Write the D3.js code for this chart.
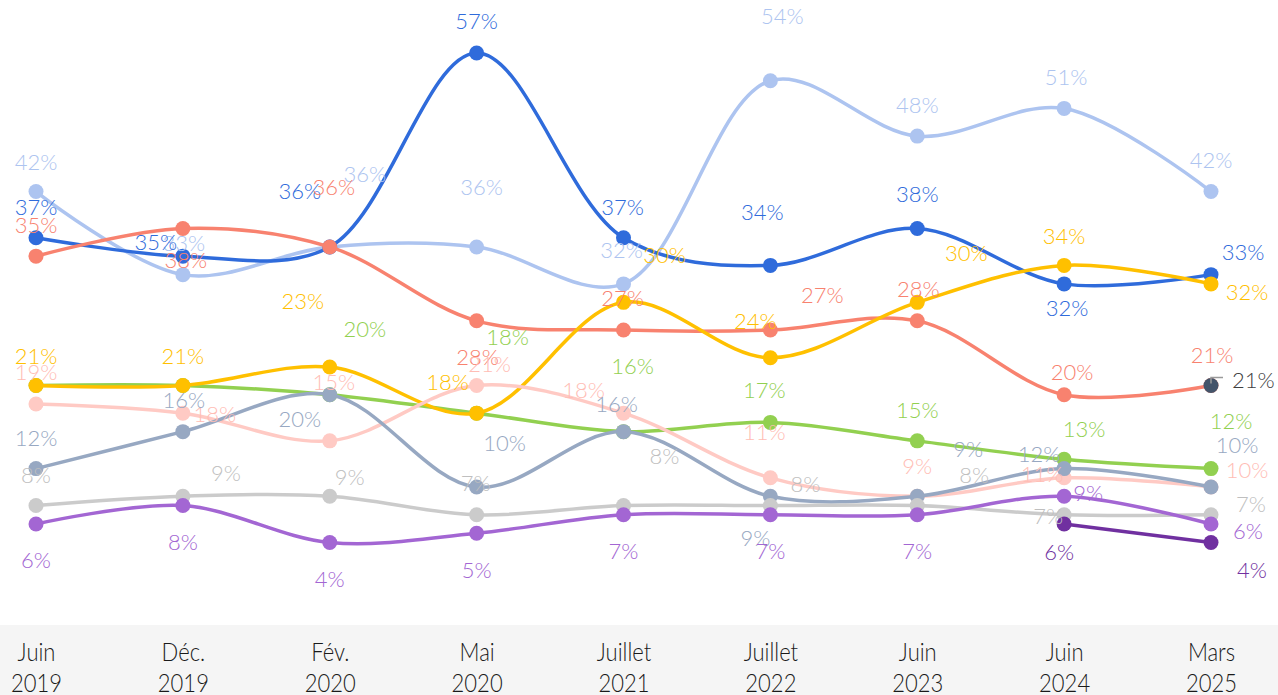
<!DOCTYPE html>
<html>
<head>
<meta charset="utf-8">
<script src="https://cdn.jsdelivr.net/npm/d3@7"></script>
<style>
  html, body { margin: 0; padding: 0; background: #fff; }
  #graph { width: 1278px; height: 695px; overflow: hidden; }
</style>
</head>
<body>
<div id="graph"></div>
<script>
// categories (two-line tick labels)
const months = ["Juin", "Déc.", "Fév.", "Mai", "Juillet", "Juillet", "Juin", "Juin", "Mars"];
const years  = ["2019", "2019", "2020", "2020", "2021", "2022", "2023", "2024", "2025"];

// series values (%), null = no point
const bleuClair  = [42, 33, 36, 36, 32, 54, 48, 51, 42];
const bleu       = [37, 35, 36, 57, 37, 34, 38, 32, 33];
const saumon     = [35, 38, 36, 28, 27, 27, 28, 20, 21];
const vert       = [21, 21, 20, 18, 16, 17, 15, 13, 12];
const jaune      = [21, 21, 23, 18, 30, 24, 30, 34, 32];
const rose       = [19, 18, 15, 21, 18, 11, 9, 11, 10];
const grisBleu   = [12, 16, 20, 10, 16, 9, 9, 12, 10];
const grisClair  = [8, 9, 9, 7, 8, 8, 8, 7, 7];
const violet     = [6, 8, 4, 5, 7, 7, 7, 9, 6];
const violetFonce = [null, null, null, null, null, null, null, 6, 4];
const ardoise    = [null, null, null, null, null, null, null, null, 21];

// label offsets from each point (dx, dy), null = no label
const offBleuClair = [[0,-30],[1,-32],[35,-73],[5,-60],[-2,-34],[12,-65],[0,-32],[2,-32],[0,-32]];
const offBleu      = [[0,-31],[-27,-15],[-30,-56],[0,-33],[-1,-31],[-8,-54],[0,-35],[3,24],[32,-23]];
const offSaumon    = [[0,-32],[3,31],[4,-60],[1,36],[-1,-33],[52,-36],[1,-32],[8,-23],[1,-31]];
const offVert      = [null,null,[35,-66],[31,-77],[9,-66],[-6,-33],[0,-31],[20,-31],[20,-48]];
const offJaune     = [[0,-30],[0,-30],[-27,-66],[-29,-32],[41,-48],[-15,-37],[49,-50],[0,-30],[36,8]];
const offRose      = [[0,-32],[32,0],[4,-59],[13,-22],[-40,-24],[-6,-46],[0,-31],[-22,-4],[36,-18]];
const offGrisBleu  = [[0,-31],[1,-32],[-30,24],[28,-45],[-7,-28],[-15,41],[51,-48],[-25,-15],[26,-43]];
const offGrisClair = [[0,-31],[43,-24],[20,-20],[-1,-32],[41,-50],[35,-22],[57,-31],[-16,1],[40,-11]];
const offViolet    = [[0,36],[0,36],[0,36],[0,36],[0,36],[0,36],[0,36],[24,-4],[37,7]];
const offVioletF   = [null,null,null,null,null,null,null,[-5,28],[41,27]];

const series = [
  {values: bleuClair,  color: "#adc4f0", label: "#adc4f0", off: offBleuClair},
  {values: bleu,       color: "#2f6bdb", label: "#2f6bdb", off: offBleu},
  {values: saumon,     color: "#f8826f", label: "#f8826f", off: offSaumon},
  {values: vert,       color: "#92d050", label: "#92d050", off: offVert},
  {values: jaune,      color: "#ffc000", label: "#ffc000", off: offJaune},
  {values: rose,       color: "#ffcac4", label: "#ffbdb5", off: offRose},
  {values: grisBleu,   color: "#97a8c2", label: "#97a8c2", off: offGrisBleu},
  {values: grisClair,  color: "#cbcbcb", label: "#bfbfbf", off: offGrisClair},
  {values: violet,     color: "#a366d3", label: "#a366d3", off: offViolet},
  {values: violetFonce,color: "#7030a0", label: "#7030a0", off: offVioletF},
  {values: ardoise,    color: "#44546a", label: "#404040", off: [null,null,null,null,null,null,null,null,null]}
];

const width = 1278, height = 695;

const svg = d3.select("#graph")
  .append("svg")
    .attr("width", width)
    .attr("height", height);

const cats = months.map((m, i) => m + " " + years[i]);

const x = d3.scalePoint()
  .domain(cats)
  .range([36, 1211]);

const y = d3.scaleLinear()
  .domain([0, 57])
  .range([579.4, 53]);

// x axis band
svg.append("rect")
  .attr("x", 0).attr("y", 625)
  .attr("width", width).attr("height", 70)
  .attr("fill", "#f5f5f5");

const xAxis = svg.append("g")
  .attr("transform", "translate(0,625)")
  .call(d3.axisBottom(x).tickSize(0).tickPadding(0));
xAxis.select(".domain").remove();
xAxis.selectAll("text").each(function(d, i) {
  const t = d3.select(this).text(null)
    .attr("y", 0)
    .attr("dy", null)
    .attr("transform", "scale(0.88,1)")
    .style("font-family", "Lato, sans-serif")
    .style("font-weight", 300)
    .style("font-size", "25px")
    .attr("fill", "#1a1a1a");
  t.append("tspan").attr("x", 0).attr("y", 36).text(months[i]);
  t.append("tspan").attr("x", 0).attr("y", 67).text(years[i]);
});

const line = d3.line()
  .defined(d => d[1] != null)
  .x(d => x(d[0]))
  .y(d => y(d[1]))
  .curve(d3.curveCatmullRom.alpha(0.5));

// lines and dots
series.forEach(s => {
  const pts = s.values.map((v, i) => [cats[i], v]);
  svg.append("path")
    .datum(pts)
    .attr("fill", "none")
    .attr("stroke", s.color)
    .attr("stroke-width", 3.5)
    .attr("d", line);
  svg.selectAll(null)
    .data(pts.filter(d => d[1] != null))
    .join("circle")
      .attr("cx", d => x(d[0]))
      .attr("cy", d => y(d[1]))
      .attr("r", 7.5)
      .attr("fill", s.color);
});

// data labels
const labelFont = "Lato, 'Noto Sans', sans-serif";
series.forEach(s => {
  s.values.forEach((v, i) => {
    if (v == null || !s.off[i]) return;
    svg.append("text")
      .attr("x", x(cats[i]) + s.off[i][0])
      .attr("y", y(v) + s.off[i][1])
      .attr("text-anchor", "middle")
      .attr("dominant-baseline", "central")
      .style("font-family", labelFont)
      .style("font-weight", 300)
      .style("font-size", "22px")
      .attr("fill", s.label)
      .text(v + "%");
  });
});

// leader label for the single last point
const last = cats.length - 1;
const ax = x(cats[last]), ay = y(ardoise[last]);
svg.append("path")
  .attr("d", `M${ax},${ay - 2}V${ay - 8}H${ax + 12}`)
  .attr("fill", "none")
  .attr("stroke", "#9a9a9a")
  .attr("stroke-width", 1.5);
svg.append("text")
  .attr("x", ax + 21)
  .attr("y", ay - 6)
  .attr("dominant-baseline", "central")
  .style("font-family", labelFont)
  .style("font-weight", 300)
  .style("font-size", "22px")
  .attr("fill", "#404040")
  .text(ardoise[last] + "%");
</script>
</body>
</html>
